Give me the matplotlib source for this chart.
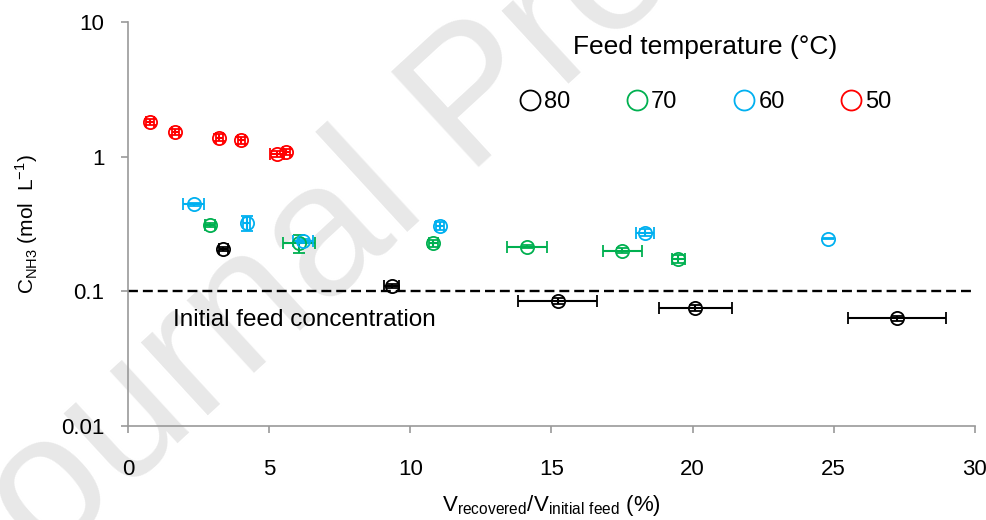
import matplotlib.pyplot as plt
from matplotlib.lines import Line2D

plt.rcParams['font.family'] = ['Liberation Sans', 'DejaVu Sans']
plt.rcParams['mathtext.fontset'] = 'custom'
plt.rcParams['mathtext.rm'] = 'Liberation Sans'

nan = float('nan')

# Recovered volume fraction (%) and NH3 concentration (mol/L) per feed temperature
x_80 = [3.38, 9.34, 15.22, 20.1, 27.23]
y_80 = [0.206, 0.110, 0.085, 0.075, 0.063]
xerr_80 = [0.15, 0.27, 1.4, 1.3, 1.74]
yerr_80 = [0.006, 0.004, 0.004, 0.004, 0.003]

x_70 = [2.91, 6.05, 10.82, 14.13, 17.51, 19.5]
y_70 = [0.31, 0.229, 0.227, 0.214, 0.200, 0.175]
xerr_70 = [0.18, 0.57, 0.15, 0.70, 0.70, 0.22]
yerr_70 = [0.012, 0.035, 0.012, 0.005, 0.008, 0.012]

x_60 = [2.32, 4.21, 6.2, 11.05, 18.32, 24.8]
y_60 = [0.443, 0.32, 0.237, 0.306, 0.273, 0.246]
xerr_60 = [0.36, 0.12, 0.35, 0.15, 0.31, nan]
yerr_60 = [0.01, 0.04, 0.008, 0.02, 0.015, 0.003]

x_50 = [0.78, 1.67, 3.23, 4.01, 5.29, 5.61]
y_50 = [1.81, 1.53, 1.38, 1.33, 1.05, 1.08]
xerr_50 = [0.15, 0.12, 0.12, 0.12, 0.25, 0.12]
yerr_50 = [0.08, 0.08, 0.08, 0.08, 0.06, 0.06]

temps = ['80', '70', '60', '50']
colors = ['black', '#00b050', '#00b0f0', 'red']
initial_feed = 0.1

fig = plt.figure(figsize=(9.87, 5.2), dpi=100)
ax = fig.add_axes([0.1297, 0.1808, 0.858, 0.777])
ax.set_zorder(1)
ax.patch.set_alpha(0)

# faint watermark behind the axes
fig.text(0.4833, 0.804, 'Journal Pre-proof', fontsize=135, color='#e8e8e8',
         rotation=42.6, ha='center', va='center', rotation_mode='anchor',
         zorder=0)

series = [(x_80, y_80, xerr_80, yerr_80), (x_70, y_70, xerr_70, yerr_70),
          (x_60, y_60, xerr_60, yerr_60), (x_50, y_50, xerr_50, yerr_50)]
for (xs, ys, xe, ye), c in zip(series, colors):
    ax.errorbar(xs, ys, xerr=xe, yerr=ye, fmt='o', ms=9.5, mfc='none',
                mec=c, mew=1.3, ecolor=c, elinewidth=1.5, capsize=4.3,
                capthick=1.5, zorder=3)

ax.axhline(initial_feed, color='black', ls=(0, (4.2, 2.1)), lw=1.7, zorder=2)
ax.text(1.6, 0.061, 'Initial feed concentration', fontsize=17.5,
        va='center', ha='left')

ax.set_yscale('log')
ax.set_xlim(0, 30)
ax.set_ylim(0.01, 10)
ax.set_yticks([0.01, 0.1, 1, 10])
ax.set_yticklabels(['0.01', '0.1', '1', '10'])
ax.minorticks_off()
ax.set_xticks(range(0, 31, 5))

for s in ['top', 'right']:
    ax.spines[s].set_visible(False)
for s in ['left', 'bottom']:
    ax.spines[s].set_color('#999999')
    ax.spines[s].set_linewidth(1.2)
ax.tick_params(axis='both', colors='#999999', labelcolor='black',
               labelsize=16, length=5, width=1.2)
ax.tick_params(axis='x', pad=19)
ax.tick_params(axis='y', pad=12)

ax.set_xlabel(r'V$_{\mathregular{recovered}}$/V$_{\mathregular{initial\ feed}}$ (%)',
              fontsize=16, labelpad=9)
ax.set_ylabel(r'C$_{\mathregular{NH3}}$ (mol  L$^{\mathregular{-1}}$)',
              fontsize=15, labelpad=15)

# legend: title and one open circle per feed temperature
ax.text(0.681, 0.938, 'Feed temperature (°C)', transform=ax.transAxes,
        fontsize=19, ha='center', va='center')
handles = [Line2D([], [], marker='o', ls='none', ms=14.4, mfc='none',
                  mec=c, mew=1.3) for c in colors]
ax.legend(handles, temps, ncol=4, loc='center', frameon=False,
          bbox_to_anchor=(0.682, 0.802), fontsize=17, handlelength=0.9,
          handletextpad=0.15, columnspacing=2.37)

fig.savefig('out.png', dpi=100)
